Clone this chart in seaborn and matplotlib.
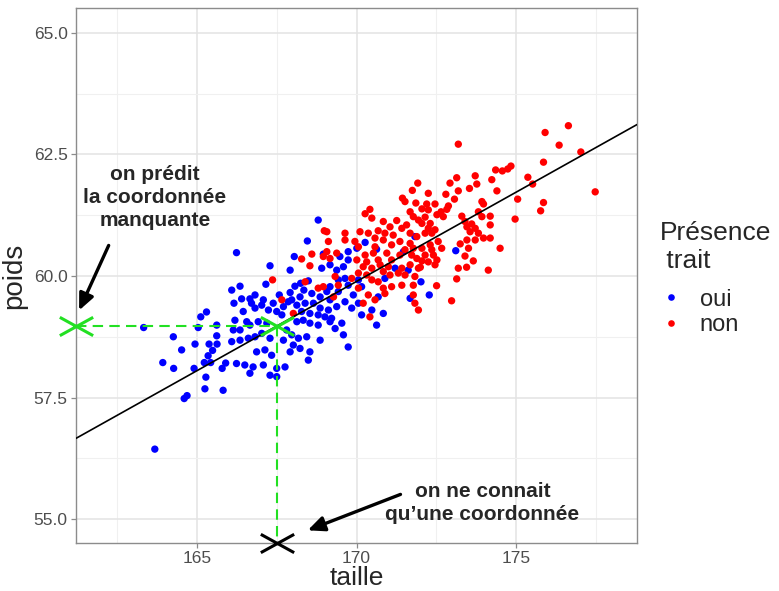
import numpy as np
import pandas as pd
import matplotlib
matplotlib.use("Agg")
import matplotlib.pyplot as plt
from matplotlib.path import Path
import seaborn as sns

sns.set_style("white")
plt.rcParams['font.family'] = ['Liberation Sans', 'DejaVu Sans']

# (taille, poids)
oui_points = [
    (165.30, 59.26), (165.12, 59.16), (163.33, 58.94), (165.04, 58.94), (165.62, 58.99),
    (164.26, 58.75), (165.62, 58.77), (164.94, 58.60), (165.38, 58.60), (165.63, 58.60),
    (164.52, 58.48), (165.49, 58.47), (165.35, 58.36), (163.93, 58.22), (165.23, 58.22),
    (165.43, 58.22), (165.90, 58.21), (164.27, 58.10), (164.91, 58.10), (165.79, 58.10),
    (165.28, 57.92), (165.25, 57.68), (165.82, 57.65), (164.69, 57.54), (164.60, 57.48),
    (163.68, 56.44),
    (166.24, 60.48), (167.29, 60.21), (167.92, 60.12), (168.05, 60.40), (168.91, 60.16),
    (168.25, 59.85), (168.49, 59.90), (167.16, 59.83), (166.35, 59.79), (166.09, 59.71),
    (168.07, 59.79), (168.35, 59.71), (167.92, 59.66), (167.58, 59.61), (166.82, 59.61),
    (166.40, 59.53), (166.66, 59.53), (167.08, 59.51), (167.39, 59.44), (167.97, 59.51),
    (168.23, 59.57), (168.60, 59.64), (168.86, 59.57), (169.07, 59.68), (167.71, 59.37),
    (167.86, 59.47), (168.13, 59.40), (168.39, 59.44), (168.65, 59.44), (168.86, 59.34),
    (166.16, 59.44), (166.45, 59.27), (166.71, 59.44), (166.82, 59.34), (167.03, 59.40),
    (167.24, 59.30), (167.50, 59.27), (167.66, 59.20), (168.28, 59.27), (168.54, 59.23),
    (168.80, 59.20), (169.01, 59.16), (169.17, 59.06), (166.19, 59.09), (166.56, 59.06),
    (166.66, 58.99), (166.92, 59.06), (167.19, 59.03), (168.13, 59.06), (168.33, 59.09),
    (168.54, 59.03), (168.80, 58.99), (166.14, 58.89), (166.35, 58.89), (166.61, 58.72),
    (166.82, 58.75), (167.03, 58.82), (167.29, 58.72), (167.81, 58.89), (167.97, 58.79),
    (168.18, 58.72), (168.44, 58.75), (168.86, 58.68), (166.09, 58.65), (166.35, 58.68),
    (167.71, 58.68), (168.02, 58.58), (168.23, 58.51), (166.87, 58.44), (167.13, 58.48),
    (167.34, 58.37), (167.92, 58.44), (168.54, 58.44), (166.24, 58.20), (166.50, 58.17),
    (166.76, 58.13), (167.08, 58.17), (167.50, 58.10), (167.76, 58.13), (168.49, 58.27),
    (166.66, 58.00), (167.29, 57.96), (167.50, 57.93),
    (168.80, 61.15), (168.46, 60.72), (168.96, 60.45),
    (170.27, 60.69), (170.01, 60.57), (170.63, 60.55), (169.74, 60.50), (171.83, 60.81),
    (171.47, 60.50), (169.48, 60.40), (169.74, 60.33), (169.17, 60.23), (169.59, 60.19),
    (169.38, 60.12), (171.21, 60.16), (171.62, 60.12), (169.64, 59.95), (169.43, 59.92),
    (169.17, 59.78), (169.74, 59.81), (170.06, 59.92), (170.16, 59.78), (170.89, 59.95),
    (169.43, 59.68), (169.90, 59.61), (169.17, 59.51), (169.64, 59.47), (170.06, 59.44),
    (170.68, 59.57), (171.68, 59.54), (169.12, 59.30), (169.38, 59.37), (169.85, 59.34),
    (170.16, 59.20), (170.48, 59.30), (169.22, 59.13), (169.54, 59.03), (170.63, 58.99),
    (169.33, 58.92), (169.59, 58.79), (170.84, 59.23), (172.28, 59.61), (172.02, 59.88),
    (173.11, 60.52), (169.74, 58.54),
]

non_points = [
    (168.28, 60.35), (168.60, 60.45), (168.54, 60.21), (168.96, 60.40), (167.37, 59.92),
    (168.80, 59.75), (168.96, 59.78), (167.66, 59.51), (168.02, 59.23), (168.99, 60.93),
    (168.39, 59.88),
    (171.52, 61.53), (171.86, 61.50), (170.42, 61.37), (170.27, 61.28), (171.68, 61.32),
    (170.48, 61.19), (170.84, 61.12), (171.26, 61.14), (171.78, 61.22), (171.94, 61.15),
    (171.57, 61.05), (171.05, 61.01), (171.42, 60.98), (170.68, 60.93), (170.11, 60.91),
    (170.37, 60.88), (169.07, 60.91), (169.64, 60.88), (170.89, 60.88), (171.15, 60.84),
    (171.68, 60.88), (171.89, 60.81), (169.12, 60.71), (169.64, 60.74), (169.95, 60.71),
    (170.58, 60.78), (170.84, 60.74), (171.36, 60.71), (171.68, 60.67), (170.06, 60.60),
    (170.58, 60.60), (171.10, 60.64), (171.52, 60.54), (171.78, 60.57), (169.07, 60.50),
    (169.38, 60.47), (170.27, 60.43), (170.53, 60.47), (170.95, 60.47), (171.36, 60.43),
    (171.73, 60.43), (169.17, 60.36), (170.01, 60.33), (170.32, 60.29), (170.68, 60.33),
    (171.10, 60.33), (171.89, 60.36), (170.21, 60.19), (170.48, 60.16), (170.74, 60.23),
    (171.00, 60.19), (171.42, 60.16), (171.68, 60.23), (171.94, 60.16), (170.06, 60.06),
    (170.32, 60.02), (170.84, 60.09), (171.05, 60.02), (171.31, 60.06), (171.52, 60.02),
    (171.83, 59.99), (169.33, 59.99), (169.85, 59.95), (170.48, 59.92), (170.68, 59.88),
    (170.84, 59.75), (171.10, 59.78), (171.42, 59.81), (171.78, 59.81), (169.43, 59.81),
    (170.06, 59.75), (170.37, 59.61), (170.89, 59.64), (169.28, 59.57), (170.21, 59.44),
    (170.58, 59.51), (171.83, 59.44), (170.42, 59.16), (171.94, 59.30), (171.78, 59.61),
    (171.92, 61.91), (171.75, 61.76), (171.44, 61.60),
    (173.19, 62.71), (173.14, 62.02), (173.72, 62.06), (174.24, 61.98), (172.93, 61.91),
    (173.77, 61.89), (173.54, 61.80), (173.19, 61.75), (172.25, 61.70), (172.80, 61.68),
    (173.07, 61.58), (173.93, 61.53), (173.98, 61.48), (172.20, 61.48), (172.46, 61.48),
    (172.88, 61.44), (172.05, 61.38), (172.25, 61.36), (172.65, 61.32), (172.83, 61.37),
    (173.82, 61.32), (172.15, 61.21), (172.52, 61.26), (172.72, 61.22), (173.30, 61.23),
    (173.93, 61.22), (174.19, 61.23), (173.40, 61.12), (172.05, 61.08), (172.31, 61.08),
    (173.61, 61.07), (174.19, 61.05), (172.25, 60.98), (172.46, 60.95), (173.46, 61.01),
    (173.72, 60.98), (172.15, 60.88), (172.36, 60.88), (173.56, 60.91), (173.82, 60.88),
    (173.46, 60.74), (173.72, 60.74), (173.98, 60.78), (174.19, 60.78), (172.56, 60.71),
    (172.31, 60.64), (173.25, 60.66), (173.51, 60.57), (172.05, 60.57), (172.36, 60.54),
    (172.67, 60.57), (172.15, 60.43), (172.41, 60.43), (173.40, 60.41), (172.05, 60.31),
    (172.25, 60.29), (172.52, 60.33), (173.66, 60.31), (172.46, 60.23), (173.19, 60.16),
    (173.45, 60.18), (174.13, 60.12), (172.00, 60.18), (173.14, 59.94), (172.51, 59.80),
    (172.98, 59.49),
    (176.64, 63.09), (175.91, 62.95), (176.35, 62.69), (177.03, 62.55), (175.86, 62.34),
    (174.84, 62.26), (174.74, 62.20), (174.57, 62.16), (174.36, 62.18), (175.37, 62.03),
    (175.52, 61.89), (174.40, 61.75), (175.05, 61.58), (175.86, 61.51), (175.77, 61.34),
    (174.97, 61.17), (174.50, 60.57), (177.48, 61.73),
]

# regression line
line_point = (167.5, 58.97)
line_slope = 0.367

# the prediction
known_taille = 167.5
predicted_poids = 58.97
x_range = (161.21, 178.79)
y_range = (54.51, 65.51)

df = pd.concat([
    pd.DataFrame(oui_points, columns=["taille", "poids"]).assign(trait="oui"),
    pd.DataFrame(non_points, columns=["taille", "poids"]).assign(trait="non"),
])

fig = plt.figure(figsize=(7.79, 5.91), dpi=100)
ax = fig.add_axes([76 / 779, 1 - 543 / 591, (637 - 76) / 779, (543 - 8) / 591])

sns.scatterplot(data=df, x="taille", y="poids", hue="trait", hue_order=["oui", "non"],
                palette=["#0000FF", "#FF0000"], s=28, linewidth=0, ax=ax, zorder=3)

ax.axline(line_point, slope=line_slope, color="black", lw=1.2, zorder=4)

green = "#22E022"
ax.plot([x_range[0], known_taille], [predicted_poids, predicted_poids], color=green,
        lw=1.5, ls=(0, (5, 3)), zorder=5)
ax.plot([known_taille, known_taille], [predicted_poids, y_range[0]], color=green,
        lw=1.5, ls=(0, (5, 3)), zorder=5)

cross = Path([(-1, -0.55), (1, 0.55), (-1, 0.55), (1, -0.55)],
             [Path.MOVETO, Path.LINETO, Path.MOVETO, Path.LINETO])
ax.plot([x_range[0], known_taille], [predicted_poids, predicted_poids], ls="none",
        marker=cross, ms=24, mew=2.2, color=green, zorder=6, clip_on=False)
ax.plot([known_taille], [y_range[0]], ls="none", marker=cross, ms=24, mew=2.2,
        color="black", zorder=6, clip_on=False)

arrow = dict(arrowstyle="-|>,head_length=1.0,head_width=0.45", color="black", lw=2.4)
ax.annotate("", xy=(161.27, 59.24), xytext=(162.27, 60.68), arrowprops=arrow, zorder=7)
ax.annotate("", xy=(168.39, 54.75), xytext=(171.46, 55.53), arrowprops=arrow,
            zorder=7, annotation_clip=False)
ax.text(163.68, 61.61, "on prédit\nla coordonnée\nmanquante", ha="center", va="center",
        fontsize=15, fontweight="bold", linespacing=1.25, zorder=7)
ax.text(173.95, 55.33, "on ne connait\nqu\u2019une coordonnée", ha="center", va="center",
        fontsize=15, fontweight="bold", linespacing=1.25, zorder=7)

ax.set_xlim(x_range)
ax.set_ylim(y_range)
ax.set_xticks([165, 170, 175])
ax.set_yticks([55.0, 57.5, 60.0, 62.5, 65.0])
ax.set_yticklabels(["55.0", "57.5", "60.0", "62.5", "65.0"])
ax.set_xticks([162.5, 167.5, 172.5, 177.5], minor=True)
ax.set_yticks([56.25, 58.75, 61.25, 63.75], minor=True)
ax.grid(which="major", color="#E3E3E3", lw=1.1)
ax.grid(which="minor", color="#F0F0F0", lw=0.8)
ax.set_axisbelow(True)
ax.tick_params(which="major", direction="out", length=3.5, width=0.9, color="#8C8C8C",
               labelsize=12.5, labelcolor="#4D4D4D", pad=2.5, bottom=True, left=True)
ax.tick_params(which="minor", length=0)
for sp in ax.spines.values():
    sp.set_color("#8C8C8C")
    sp.set_linewidth(1.0)

ax.set_xlabel("taille", fontsize=19, labelpad=-0.5)
ax.set_ylabel("poids", fontsize=20, labelpad=5)

handles, labels = ax.get_legend_handles_labels()
leg = ax.legend(handles, labels, title="Présence\n trait", loc="upper left",
                bbox_to_anchor=(650 / 779, 1 - 212 / 591), bbox_transform=fig.transFigure,
                frameon=False, fontsize=17, title_fontsize=19, alignment="left",
                markerscale=0.9, handlelength=1.0, handletextpad=0.7,
                labelspacing=0.15, borderaxespad=0)
leg._legend_box.sep = 11

fig.savefig("out.png", dpi=100)
